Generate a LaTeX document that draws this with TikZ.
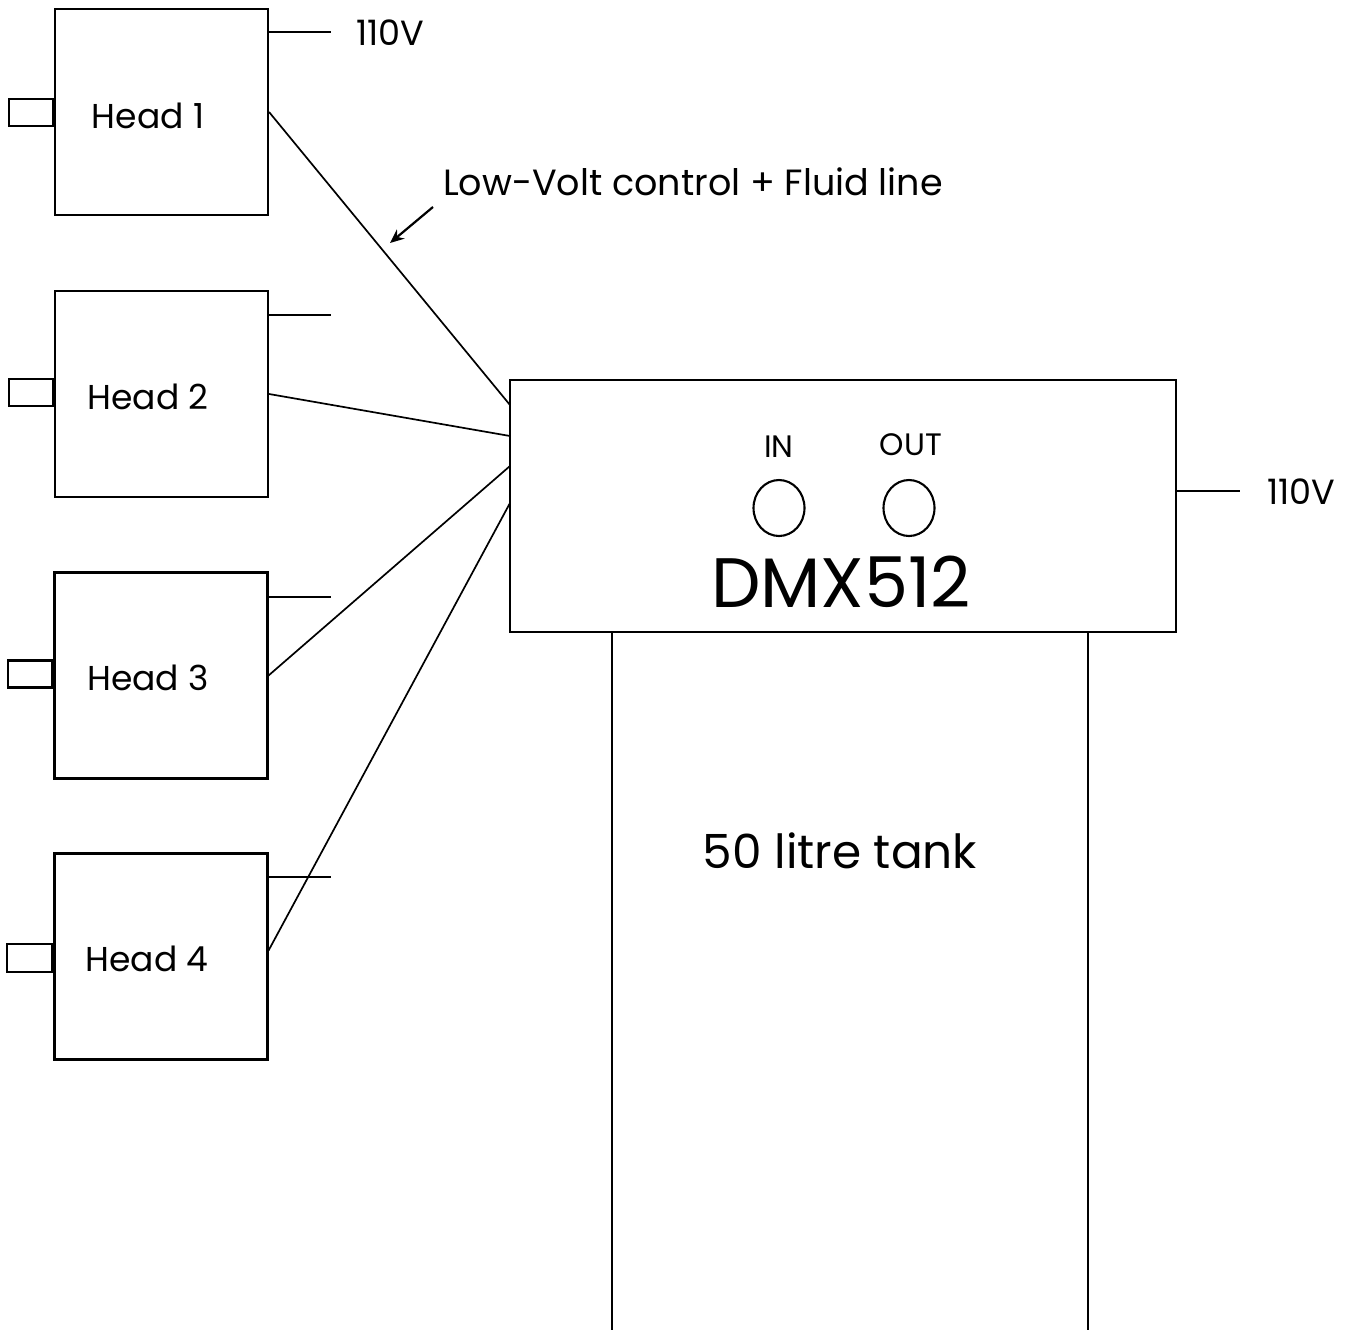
\documentclass[tikz,border=0pt]{standalone}
\usepackage{fontspec}
\setmainfont{Poppins}
\usetikzlibrary{arrows.meta,calc,shapes.geometric}
\begin{document}
\begin{tikzpicture}[x=1pt,y=-1pt,
  every path/.style={line width=2.1pt},
  headbox/.style={draw,rectangle,minimum width=213pt,minimum height=206pt,inner sep=0pt},
  portbox/.style={draw,rectangle,minimum width=44pt,minimum height=27pt,inner sep=0pt},
  lbl/.style={inner sep=0pt,font=\fontsize{34.5}{38}\selectfont},
  vlbl/.style={inner sep=0pt,font=\fontsize{35}{38}\selectfont},
  wire/.style={line width=1.7pt}]
\useasboundingbox (0,0) rectangle (1354,1330);
% heads
\node[headbox] (h1) at (161.5,112) {};
\node[headbox] (h2) at (161.5,394) {};
\node[headbox] (h3) at (161,675.5) {};
\node[headbox] (h4) at (161,956.5) {};
\node[lbl] (t1) at (148,116) {Head 1};
\node[lbl] (t2) at (148,397) {Head 2};
\node[lbl] (t3) at (148,678) {Head 3};
\node[lbl] (t4) at (147,959) {Head 4};
% ports
\node[portbox,anchor=east] (p1) at (h1.west |- 0,112.5) {};
\node[portbox,anchor=east] (p2) at (h2.west |- 0,392.5) {};
\node[portbox,anchor=east] (p3) at (h3.west |- 0,674) {};
\node[portbox,anchor=east,minimum width=45pt,minimum height=28pt] (p4) at (h4.west |- 0,958) {};
% power stubs
\coordinate (s1) at (331,32);
\coordinate (s2) at (331,315);
\coordinate (s3) at (331,597);
\coordinate (s4) at (331,877);
\draw (h1.east |- s1) -- (s1);
\draw (h2.east |- s2) -- (s2);
\draw (h3.east |- s3) -- (s3);
\draw (h4.east |- s4) -- (s4);
\node[vlbl,anchor=west] (v1) at (355,33) {110V};
% DMX box
\node[draw,rectangle,minimum width=666pt,minimum height=252pt,inner sep=0pt] (dmx) at (843,506) {};
\node[inner sep=0pt,font=\fontsize{70}{74}\selectfont] (dmxt) at (841,582) {DMX512};
\node[inner sep=0pt,font=\fontsize{31}{34}\selectfont] (in) at (779,447) {IN};
\node[inner sep=0pt,font=\fontsize{31}{34}\selectfont] (out) at (911,445) {OUT};
\node[draw,ellipse,minimum width=51pt,minimum height=56pt,inner sep=0pt] (cin) at (779,508) {};
\node[draw,ellipse,minimum width=51pt,minimum height=56pt,inner sep=0pt] (cout) at (909,508) {};
\coordinate (s5) at (1240,491);
\draw (dmx.east |- s5) -- (s5);
\node[vlbl,anchor=west] (v2) at (1266,492) {110V};
% tank
\coordinate (tl) at (612,1330);
\coordinate (tr) at (1088,1330);
\draw (dmx.south -| tl) -- (tl);
\draw (dmx.south -| tr) -- (tr);
\node[inner sep=0pt,font=\fontsize{47}{50}\selectfont] (tank) at (840,851) {50 litre tank};
% wires
\coordinate (d1) at (510,405);
\coordinate (d2) at (510,436);
\coordinate (d3) at (510,466);
\coordinate (d4) at (510,503);
\draw[wire] (h1.east) -- (d1);
\draw[wire] (h2.east) -- (d2);
\draw[wire] (h3.east) -- (d3);
\draw[wire] ($(h4.east)+(0,-6)$) -- (d4);
% label and arrow
\node[inner sep=0pt,anchor=west,font=\fontsize{36.5}{40}\selectfont] (lv) at (442,182) {Low-Volt control + Fluid line};
\coordinate (ae) at (390,243);
\draw[line width=2.2pt,-{Stealth[length=14pt,width=12pt]}] (433,207) -- (ae);
\end{tikzpicture}
\end{document}
